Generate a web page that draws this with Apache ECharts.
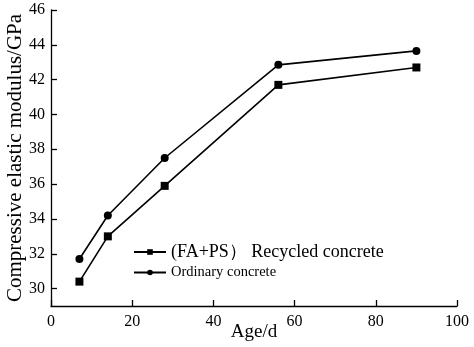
<!DOCTYPE html>
<html><head><meta charset="utf-8">
<script src="https://cdn.jsdelivr.net/npm/echarts@6/dist/echarts.min.js"></script>
<style>html,body{margin:0;padding:0;background:#fff}#c{width:474px;height:347px}</style>
</head><body><div id="c"></div>
<script>
const ages = [7, 14, 28, 56, 90];
const recycled = [30.4, 33.0, 35.9, 41.7, 42.7];
const ordinary = [31.7, 34.2, 37.5, 42.85, 43.65];
const yTicks = [30, 32, 34, 36, 38, 40, 42, 44, 46];
const xTicks = [0, 20, 40, 60, 80, 100];
const nameRecycled = '(FA+PS） Recycled concrete';
const nameOrdinary = 'Ordinary concrete';

const chart = echarts.init(document.getElementById('c'));
const font = 'Liberation Serif';
chart.setOption({
  animation: false,
  backgroundColor: '#fff',
  grid: { left: 51, right: 17, top: 10, bottom: 41, containLabel: false, outerBoundsMode: 'none' },
  xAxis: {
    type: 'value', min: 0, max: 100, interval: 20,
    name: 'Age/d', nameLocation: 'middle', nameGap: 17, nameMoveOverlap: false,
    nameTextStyle: { fontFamily: font, fontSize: 19, color: '#000' },
    axisLine: { show: true, lineStyle: { color: '#000', width: 1.3 } },
    axisTick: { show: true, inside: true, length: 6, lineStyle: { color: '#000', width: 1.3 } },
    axisLabel: { fontFamily: font, fontSize: 16, color: '#000', margin: 8 },
    splitLine: { show: false }
  },
  yAxis: {
    type: 'value', min: 29, max: 46,
    name: 'Compressive elastic modulus/GPa', nameLocation: 'middle', nameGap: 25, nameMoveOverlap: false,
    nameTextStyle: { fontFamily: font, fontSize: 21, color: '#000' },
    axisLine: { show: true, lineStyle: { color: '#000', width: 1.3 } },
    axisTick: { show: true, inside: true, length: 6, customValues: yTicks, lineStyle: { color: '#000', width: 1.3 } },
    axisLabel: { fontFamily: font, fontSize: 16, color: '#000', margin: 6, customValues: yTicks },
    splitLine: { show: false }
  },
  legend: [
    { data: [nameRecycled], left: 128, top: 238, itemWidth: 32, itemHeight: 7, itemGap: 3,
      textStyle: { fontFamily: font, fontSize: 18, color: '#000' } },
    { data: [nameOrdinary], left: 128, top: 260, itemWidth: 32, itemHeight: 7, itemGap: 3,
      textStyle: { fontFamily: font, fontSize: 14.5, color: '#000' } }
  ],
  series: [
    { name: nameRecycled, type: 'line', data: ages.map((a, i) => [a, recycled[i]]),
      symbol: 'rect', symbolSize: 8, itemStyle: { color: '#000' },
      lineStyle: { color: '#000', width: 1.6 } },
    { name: nameOrdinary, type: 'line', data: ages.map((a, i) => [a, ordinary[i]]),
      symbol: 'circle', symbolSize: 8, itemStyle: { color: '#000' },
      lineStyle: { color: '#000', width: 1.6 } }
  ]
});
</script></body></html>
